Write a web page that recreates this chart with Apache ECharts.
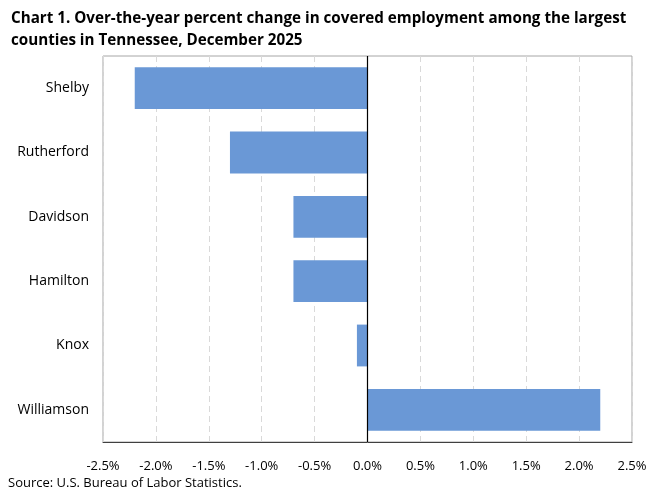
<!DOCTYPE html>
<html>
<head>
<meta charset="utf-8">
<script src="https://cdn.jsdelivr.net/npm/echarts@6/dist/echarts.min.js"></script>
<style>
  html, body { margin: 0; padding: 0; background: #fff; }
  #chart { width: 660px; height: 493px; }
</style>
</head>
<body>
<div id="chart"></div>
<script>
// counties, top to bottom
const counties = ['Shelby', 'Rutherford', 'Davidson', 'Hamilton', 'Knox', 'Williamson'];
// over-the-year percent change
const pctChange = [-2.2, -1.3, -0.7, -0.7, -0.1, 2.2];
const xMin = -2.5;
const xMax = 2.5;
const xStep = 0.5;

const font = '"Open Sans", "Noto Sans", sans-serif';
const myChart = echarts.init(document.getElementById('chart'));
const option = {
  animation: false,
  title: {
    text: 'Chart 1. Over-the-year percent change in covered employment among the largest\ncounties in Tennessee, December 2025',
    left: 6,
    top: 3,
    textStyle: {
      fontFamily: font,
      fontSize: 15.2,
      fontWeight: 'bold',
      color: '#000',
      lineHeight: 22
    }
  },
  graphic: [{
    type: 'text',
    left: 8,
    top: 477,
    style: {
      text: 'Source: U.S. Bureau of Labor Statistics.',
      font: '13px "Open Sans", sans-serif',
      fill: '#000'
    }
  }],
  grid: {
    left: 103,
    right: 28,
    top: 56,
    bottom: 51,
    show: true,
    borderColor: '#a6a6a6',
    borderWidth: 1
  },
  xAxis: {
    type: 'value',
    min: xMin,
    max: xMax,
    interval: xStep,
    axisLine: { show: true, onZero: false, lineStyle: { color: '#404040' } },
    axisTick: { show: false },
    axisLabel: {
      margin: 18,
      fontFamily: font,
      fontSize: 13,
      color: '#000',
      formatter: v => v.toFixed(1) + '%'
    },
    splitLine: {
      show: true,
      lineStyle: { color: '#d9d9d9', type: [6, 4] }
    }
  },
  yAxis: {
    type: 'category',
    data: counties,
    inverse: true,
    axisLine: { show: false },
    axisTick: { show: false },
    axisLabel: {
      margin: 14,
      fontFamily: font,
      fontSize: 14,
      color: '#000'
    }
  },
  series: [{
    type: 'bar',
    data: pctChange,
    barCategoryGap: '35%',
    itemStyle: { color: '#6a98d6' },
    markLine: {
      silent: true,
      symbol: 'none',
      label: { show: false },
      lineStyle: { color: '#000', type: 'solid', width: 1.2 },
      data: [{ xAxis: 0 }]
    }
  }]
};
myChart.setOption(option);
</script>
</body>
</html>
